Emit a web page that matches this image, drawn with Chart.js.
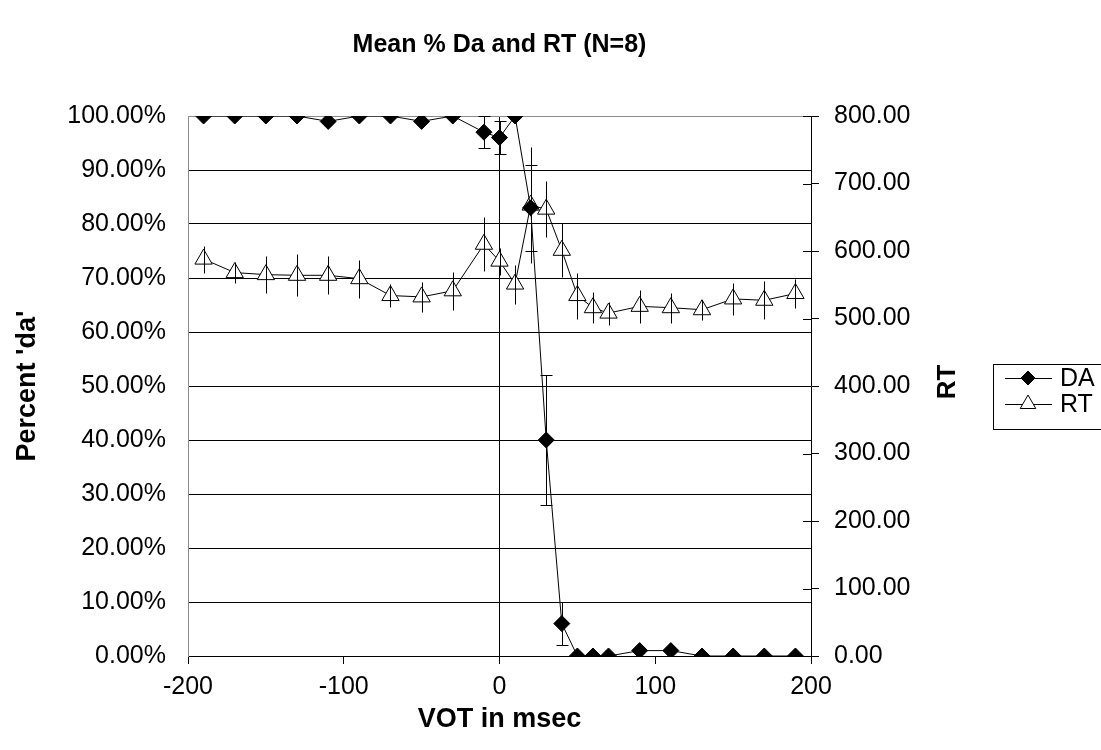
<!DOCTYPE html>
<html>
<head>
<meta charset="utf-8">
<script src="https://cdn.jsdelivr.net/npm/chart.js@4.4.1/dist/chart.umd.min.js"></script>
<style>
  html, body { margin: 0; padding: 0; background: #fff; overflow: hidden; }
  canvas { display: block; }
</style>
</head>
<body>
<canvas id="chart" width="1101" height="750"></canvas>
<script>
// VOT continuum steps (msec)
const vot = [-190, -170, -150, -130, -110, -90, -70, -50, -30, -10, 0, 10, 20, 30, 40, 50, 60, 70, 90, 110, 130, 150, 170, 190];
// Mean percent 'da' responses and their error bars
const daPercent = [100, 100, 100, 100, 99, 100, 100, 99, 100, 97, 96, 100, 83, 40, 6, 0, 0, 0, 1, 1, 0, 0, 0, 0];
const daError   = [0, 0, 0, 0, 0, 0, 0, 0, 0, 3, 3, 0, 8, 12, 4, 0, 0, 0, 0, 0, 0, 0, 0, 0];
// Mean reaction times (msec) and their error bars
const rtMs    = [588, 568, 565, 564, 564, 559, 534, 532, 541, 610, 585, 551, 668, 662, 601, 534, 516, 508, 518, 516, 513, 529, 527, 537];
const rtError = [20, 15, 27, 31, 28, 28, 17, 22, 28, 40, 20, 29, 86, 41, 40, 34, 23, 17, 24, 22, 15, 24, 28, 22];

const FONT = "'Liberation Sans', Arial, sans-serif";

// Vertical error bars, drawn from each dataset's `errors` array
const errorBars = {
  id: 'errorBars',
  afterDatasetsDraw(chart) {
    const ctx = chart.ctx;
    chart.data.datasets.forEach((ds, i) => {
      const meta = chart.getDatasetMeta(i);
      const xs = chart.scales[meta.xAxisID];
      const ys = chart.scales[meta.yAxisID];
      ctx.save();
      ctx.strokeStyle = '#000';
      ctx.lineWidth = 1;
      ds.data.forEach((p, j) => {
        const e = ds.errors[j];
        if (!e) return;
        const x = Math.round(xs.getPixelForValue(p.x)) + 0.5;
        const yTop = Math.round(ys.getPixelForValue(p.y + e)) + 0.5;
        const yBot = Math.round(ys.getPixelForValue(p.y - e)) + 0.5;
        ctx.beginPath();
        ctx.moveTo(x, yTop);
        ctx.lineTo(x, yBot);
        if (ds.errorCap) {
          ctx.moveTo(x - ds.errorCap, yTop);
          ctx.lineTo(x + ds.errorCap, yTop);
          ctx.moveTo(x - ds.errorCap, yBot);
          ctx.lineTo(x + ds.errorCap, yBot);
        }
        ctx.stroke();
      });
      ctx.restore();
    });
  }
};

// Tick marks on the secondary axis cross the axis line
const crossTicks = {
  id: 'crossTicks',
  afterDraw(chart) {
    const s = chart.scales.y2;
    const ctx = chart.ctx;
    ctx.save();
    ctx.strokeStyle = '#000';
    ctx.lineWidth = 1;
    ctx.beginPath();
    s.ticks.forEach(t => {
      const y = Math.round(s.getPixelForValue(t.value)) + 0.5;
      ctx.moveTo(s.left - 8, y);
      ctx.lineTo(s.left, y);
    });
    ctx.stroke();
    ctx.restore();
  }
};

// Secondary axis title, reading bottom to top
const rtTitle = {
  id: 'rtTitle',
  afterDraw(chart, args, opts) {
    const s = chart.scales.y2;
    const ctx = chart.ctx;
    ctx.save();
    ctx.translate(s.left + opts.offset, (chart.chartArea.top + chart.chartArea.bottom) / 2 + opts.shift);
    ctx.rotate(-Math.PI / 2);
    ctx.font = opts.font;
    ctx.fillStyle = '#000';
    ctx.textAlign = 'center';
    ctx.textBaseline = 'middle';
    ctx.fillText(opts.text, 0, 0);
    ctx.restore();
  }
};

// Boxed legend with a line segment and marker for each series
const boxLegend = {
  id: 'boxLegend',
  afterDraw(chart, args, opts) {
    const ctx = chart.ctx;
    const { left, top, width, height, rowGap, font } = opts;
    ctx.save();
    ctx.strokeStyle = '#000';
    ctx.lineWidth = 1;
    ctx.strokeRect(left + 0.5, top + 0.5, width, height);
    chart.data.datasets.forEach((ds, i) => {
      const y = top + 14 + i * rowGap;
      ctx.beginPath();
      ctx.moveTo(left + 12, Math.round(y) + 0.5);
      ctx.lineTo(left + 59, Math.round(y) + 0.5);
      ctx.strokeStyle = '#000';
      ctx.lineWidth = 1;
      ctx.stroke();
      ctx.fillStyle = ds.pointBackgroundColor;
      ctx.strokeStyle = ds.pointBorderColor;
      Chart.helpers.drawPoint(ctx, {
        pointStyle: ds.pointStyle,
        radius: ds.legendRadius,
        borderWidth: 1,
        rotation: 0
      }, left + 35, y);
      ctx.fillStyle = '#000';
      ctx.font = font;
      ctx.textAlign = 'left';
      ctx.textBaseline = 'middle';
      ctx.fillText(ds.label, left + 67, y + 1);
    });
    ctx.restore();
  }
};

Chart.defaults.color = '#000';
Chart.defaults.font.family = FONT;

new Chart(document.getElementById('chart'), {
  type: 'scatter',
  data: {
    datasets: [
      {
        label: 'DA',
        data: vot.map((v, i) => ({ x: v, y: daPercent[i] })),
        errors: daError,
        errorCap: 6,
        yAxisID: 'y',
        showLine: true,
        borderColor: '#000',
        borderWidth: 1,
        pointStyle: 'rectRot',
        pointRadius: 8,
        legendRadius: 7,
        pointBackgroundColor: '#000',
        pointBorderColor: '#000',
        pointBorderWidth: 1
      },
      {
        label: 'RT',
        data: vot.map((v, i) => ({ x: v, y: rtMs[i] })),
        errors: rtError,
        errorCap: 0,
        yAxisID: 'y2',
        showLine: true,
        borderColor: '#000',
        borderWidth: 1,
        pointStyle: 'triangle',
        pointRadius: 10,
        legendRadius: 9,
        pointBackgroundColor: '#fff',
        pointBorderColor: '#000',
        pointBorderWidth: 1
      }
    ]
  },
  options: {
    responsive: false,
    animation: false,
    events: [],
    layout: { padding: 0 },
    scales: {
      x: {
        type: 'linear',
        position: 'bottom',
        min: -200,
        max: 200,
        afterFit(s) { s.height = 94; },
        ticks: { stepSize: 100, padding: 8, font: { size: 25 } },
        grid: {
          color: c => (c.tick && c.tick.value === 0 ? '#000' : 'rgba(0,0,0,0)'),
          lineWidth: 1,
          drawTicks: true,
          tickLength: 8,
          tickColor: '#000'
        },
        border: { display: true, color: '#000', width: 1 },
        title: {
          display: true,
          text: 'VOT in msec',
          font: { size: 27, weight: 'bold' },
          padding: { top: 0, bottom: 14 }
        }
      },
      y: {
        position: 'left',
        min: 0,
        max: 100,
        afterFit(s) { s.width = 188; },
        ticks: { stepSize: 10, padding: 22, font: { size: 25 }, callback: v => v.toFixed(2) + '%' },
        grid: {
          color: c => (c.tick && c.tick.value === 100 ? '#8c8c8c' : '#000'),
          lineWidth: 1,
          drawTicks: false
        },
        border: { display: true, color: '#8c8c8c', width: 1 },
        title: {
          display: true,
          text: "Percent 'da'",
          font: { size: 27, weight: 'bold' },
          padding: { top: 11, bottom: 0 }
        }
      },
      y2: {
        position: 'right',
        min: 0,
        max: 800,
        afterFit(s) { s.width = 290; },
        ticks: { stepSize: 100, padding: 15, font: { size: 25 }, callback: v => v.toFixed(2) },
        grid: {
          drawOnChartArea: false,
          drawTicks: true,
          tickLength: 8,
          tickColor: '#000'
        },
        border: { display: true, color: '#000', width: 1 }
      }
    },
    plugins: {
      legend: { display: false },
      tooltip: { enabled: false },
      title: {
        display: true,
        fullSize: false,
        text: 'Mean % Da and RT (N=8)',
        font: { size: 25, weight: 'bold' },
        color: '#000',
        padding: { top: 30, bottom: 56 }
      },
      rtTitle: { text: 'RT', offset: 137, shift: -4, font: "bold 26px " + FONT },
      boxLegend: { left: 993, top: 364, width: 120, height: 65, rowGap: 26, font: "25px " + FONT }
    }
  },
  plugins: [errorBars, crossTicks, rtTitle, boxLegend]
});
</script>
</body>
</html>
